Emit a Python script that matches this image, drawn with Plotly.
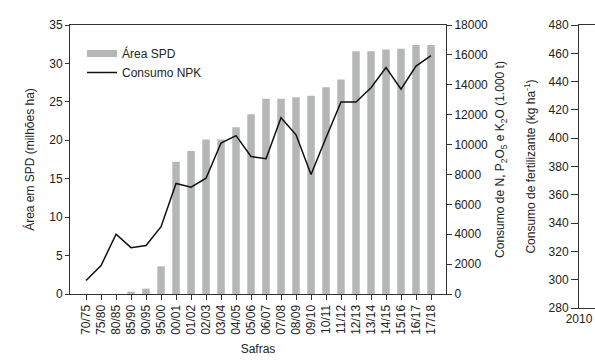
import plotly.graph_objects as go

safras = ["70/75","75/80","80/85","85/90","90/95","95/00","00/01","01/02","02/03","03/04",
          "04/05","05/06","06/07","07/08","08/09","09/10","10/11","11/12","12/13","13/14",
          "14/15","15/16","16/17","17/18"]
area_spd = [0, 0, 0, 0.3, 0.7, 3.6, 17.2, 18.6, 20.1, 20.1, 21.7, 23.4, 25.4, 25.4,
            25.6, 25.8, 26.9, 27.9, 31.6, 31.6, 31.8, 31.9, 32.4, 32.4]
consumo_npk = [900, 1900, 4000, 3100, 3250, 4500, 7400, 7150, 7750, 10100, 10600, 9200,
               9050, 11800, 10650, 8000, 10450, 12850, 12850, 13800, 15150, 13700, 15250, 15950]
left_ticks = [0, 5, 10, 15, 20, 25, 30, 35]
right_ticks = [0, 2000, 4000, 6000, 8000, 10000, 12000, 14000, 16000, 18000]
panel2_ticks = [280, 300, 320, 340, 360, 380, 400, 420, 440, 460, 480]

W, H = 595, 364
FONT = "Liberation Sans, Arial, sans-serif"
TXT = "#222222"
AX = "#333333"
BAR = "#b5b7b6"

def px_x(p):
    return p / W

def px_y(p):
    return 1 - p / H

fig = go.Figure()
fig.add_trace(go.Bar(x=list(range(len(safras))), y=area_spd, name="Área SPD",
                     marker=dict(color=BAR, line=dict(width=0)), width=0.5,
                     legendgroup="spd", showlegend=False,
                     xaxis="x", yaxis="y"))
# legend entry drawn as a wide grey patch, like the reference legend
fig.add_trace(go.Scatter(x=[None], y=[None], name="Área SPD", mode="lines",
                         line=dict(color=BAR, width=7), legendgroup="spd",
                         xaxis="x", yaxis="y"))
fig.add_trace(go.Scatter(x=list(range(len(safras))), y=consumo_npk, name="Consumo NPK",
                         mode="lines", line=dict(color="#111111", width=1.5),
                         xaxis="x", yaxis="y2"))
fig.add_trace(go.Scatter(x=[], y=[], showlegend=False, xaxis="x3", yaxis="y3"))

common = dict(showline=True, linecolor=AX, linewidth=1, ticks="outside", tickcolor=AX,
              showgrid=False, zeroline=False, automargin=False,
              tickfont=dict(size=12, color=TXT, family=FONT))

fig.update_layout(
    width=W, height=H, margin=dict(l=0, r=0, t=0, b=0, autoexpand=False),
    paper_bgcolor="white", plot_bgcolor="white",
    font=dict(family=FONT, size=12, color=TXT),
    bargap=0.5,
    xaxis=dict(domain=[px_x(70), px_x(446)], range=[-1.07, 24], tickmode="array",
               tickvals=list(range(len(safras))), ticktext=safras, tickangle=-90,
               ticklen=5, mirror=True, anchor="y",
               title=dict(text="Safras", font=dict(size=12, color=TXT), standoff=10),
               **common),
    yaxis=dict(domain=[px_y(294), px_y(25)], range=[0, 35], tickvals=left_ticks,
               ticklen=4, anchor="x",
               title=dict(text="Área em SPD (milhões ha)", font=dict(size=12, color=TXT), standoff=12),
               **common),
    yaxis2=dict(domain=[px_y(294), px_y(25)], range=[0, 18000], tickvals=right_ticks,
                tickformat="d",
                overlaying="y", side="right", anchor="x", ticklen=5,
                title=dict(text="Consumo de N, P<sub>2</sub>O<sub>5</sub> e K<sub>2</sub>O (1.000 t)",
                           font=dict(size=12, color=TXT), standoff=8),
                **common),
    xaxis3=dict(domain=[px_x(579), 1], range=[2010, 2011], tickvals=[2010], ticktext=["2010"],
                ticklen=0, anchor="y3", mirror=True, ticklabeloverflow="allow", **common),
    yaxis3=dict(domain=[px_y(308), px_y(25)], range=[280, 480], tickvals=panel2_ticks,
                ticklen=7, anchor="x3",
                title=dict(text="Consumo de fertilizante (kg ha<sup>-1</sup>)",
                           font=dict(size=12, color=TXT), standoff=10),
                **common),
    legend=dict(x=px_x(82), y=px_y(39), xanchor="left", yanchor="top",
                bgcolor="rgba(0,0,0,0)", font=dict(size=12, color=TXT, family=FONT),
                tracegroupgap=0, itemwidth=30),
    showlegend=True,
)

fig.write_html("out.html", config={"displayModeBar": False},
               post_script="document.body.style.margin='0';document.body.style.overflow='hidden';")
